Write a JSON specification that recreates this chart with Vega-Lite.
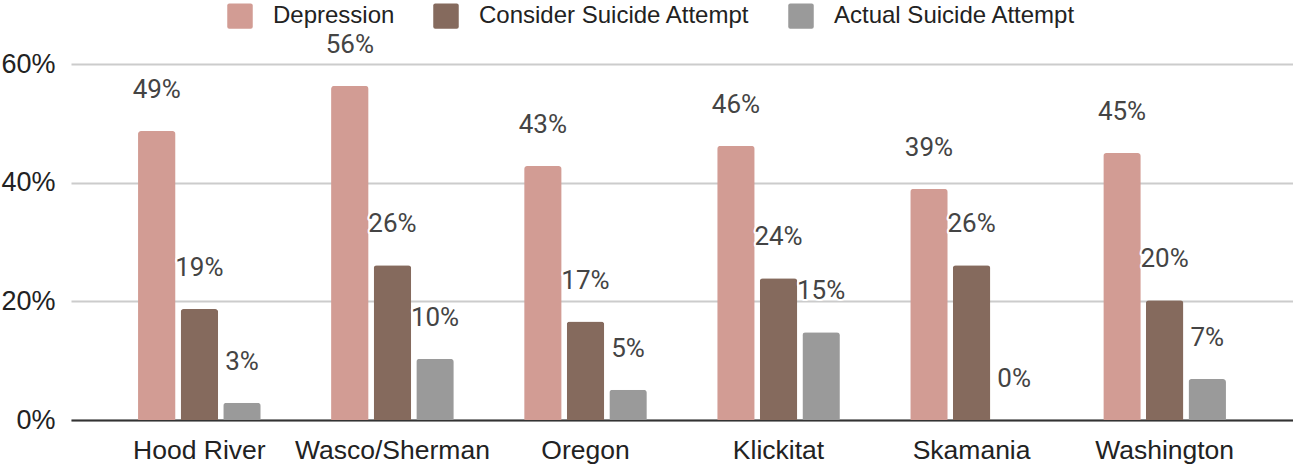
{
  "$schema": "https://vega.github.io/schema/vega-lite/v6.json",
  "width": 1222,
  "height": 356,
  "autosize": {"type": "none"},
  "padding": {"left": 71, "top": 64, "right": 0, "bottom": 46},
  "background": "white",
  "config": {
    "view": {"stroke": null},
    "font": "Liberation Sans"
  },
  "data": {
    "values": [
      {"region": "Hood River", "series": "Depression", "value": 0.487},
      {"region": "Hood River", "series": "Consider Suicide Attempt", "value": 0.187},
      {"region": "Hood River", "series": "Actual Suicide Attempt", "value": 0.029},
      {"region": "Wasco/Sherman", "series": "Depression", "value": 0.563},
      {"region": "Wasco/Sherman", "series": "Consider Suicide Attempt", "value": 0.261},
      {"region": "Wasco/Sherman", "series": "Actual Suicide Attempt", "value": 0.103},
      {"region": "Oregon", "series": "Depression", "value": 0.428},
      {"region": "Oregon", "series": "Consider Suicide Attempt", "value": 0.166},
      {"region": "Oregon", "series": "Actual Suicide Attempt", "value": 0.051},
      {"region": "Klickitat", "series": "Depression", "value": 0.462},
      {"region": "Klickitat", "series": "Consider Suicide Attempt", "value": 0.239},
      {"region": "Klickitat", "series": "Actual Suicide Attempt", "value": 0.148},
      {"region": "Skamania", "series": "Depression", "value": 0.3895},
      {"region": "Skamania", "series": "Consider Suicide Attempt", "value": 0.261},
      {"region": "Skamania", "series": "Actual Suicide Attempt", "value": 0.0},
      {"region": "Washington", "series": "Depression", "value": 0.450},
      {"region": "Washington", "series": "Consider Suicide Attempt", "value": 0.202},
      {"region": "Washington", "series": "Actual Suicide Attempt", "value": 0.069}
    ]
  },
  "encoding": {
    "x": {
      "field": "region",
      "type": "nominal",
      "sort": null,
      "scale": {"paddingInner": 0.338, "paddingOuter": 0.334},
      "axis": {
        "title": null,
        "labelAngle": 0,
        "labelFont": "Liberation Sans",
        "labelFontSize": 26.5,
        "labelColor": "#222222",
        "labelPadding": 17,
        "labelLimit": 0,
        "ticks": false,
        "domain": true,
        "domainColor": "#333333",
        "domainWidth": 2,
        "grid": false
      }
    },
    "xOffset": {
      "field": "series",
      "type": "nominal",
      "sort": ["Depression", "Consider Suicide Attempt", "Actual Suicide Attempt"],
      "scale": {"paddingInner": 0.12, "paddingOuter": 0.06}
    },
    "y": {
      "field": "value",
      "type": "quantitative",
      "scale": {"domain": [0, 0.6], "nice": false},
      "axis": {
        "title": null,
        "values": [0, 0.2, 0.4, 0.6],
        "format": ".0%",
        "labelFont": "Liberation Sans",
        "labelFontSize": 27,
        "labelColor": "#222222",
        "labelPadding": 16,
        "ticks": false,
        "domain": false,
        "grid": true,
        "gridColor": "#cccccc",
        "gridWidth": 2
      }
    }
  },
  "layer": [
    {
      "mark": {"type": "bar", "cornerRadiusTopLeft": 3, "cornerRadiusTopRight": 3},
      "encoding": {
        "color": {
          "field": "series",
          "type": "nominal",
          "scale": {
            "domain": ["Depression", "Consider Suicide Attempt", "Actual Suicide Attempt"],
            "range": ["#d29c94", "#856a5d", "#9a9a9a"]
          },
          "legend": {
            "title": null,
            "orient": "none",
            "direction": "horizontal",
            "legendX": 156,
            "legendY": -61,
            "symbolType": "M -0.84,-1 L 0.84,-1 Q 1,-1 1,-0.84 L 1,0.84 Q 1,1 0.84,1 L -0.84,1 Q -1,1 -1,0.84 L -1,-0.84 Q -1,-1 -0.84,-1 Z",
            "symbolSize": 650,
            "symbolStrokeWidth": 0,
            "symbolOpacity": 1,
            "labelFont": "Liberation Sans",
            "labelFontSize": 24,
            "labelColor": "#222222",
            "labelLimit": 0,
            "labelOffset": 20,
            "columnPadding": 38,
            "padding": 0
          }
        }
      }
    },
    {
      "mark": {
        "type": "text",
        "baseline": "alphabetic",
        "align": "center",
        "dy": -33,
        "font": "Roboto",
        "fontSize": 26,
        "stroke": "white",
        "strokeWidth": 4,
        "strokeJoin": "round",
        "fill": "white"
      },
      "encoding": {
        "text": {"field": "value", "type": "quantitative", "format": ".0%"}
      }
    },
    {
      "mark": {
        "type": "text",
        "baseline": "alphabetic",
        "align": "center",
        "dy": -33,
        "font": "Roboto",
        "fontSize": 26,
        "fill": "#444444"
      },
      "encoding": {
        "text": {"field": "value", "type": "quantitative", "format": ".0%"}
      }
    }
  ]
}
